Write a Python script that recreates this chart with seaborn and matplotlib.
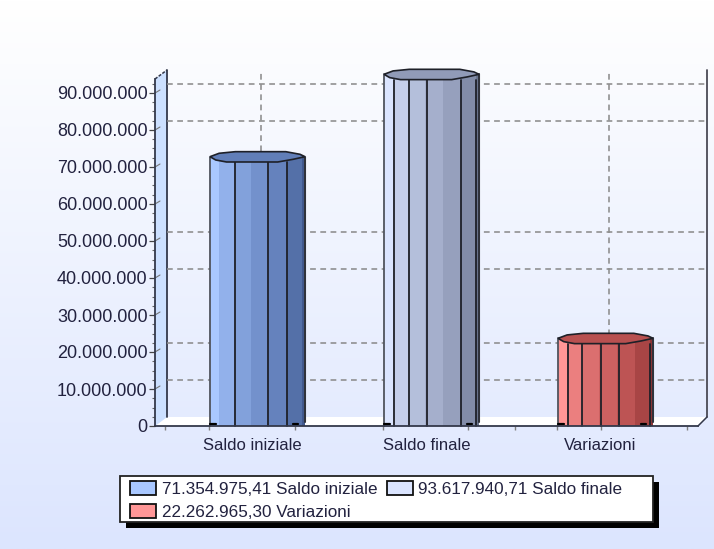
import numpy as np
import pandas as pd
import matplotlib
matplotlib.use("Agg")
import matplotlib.pyplot as plt
import seaborn as sns
from matplotlib.colors import LinearSegmentedColormap, to_rgb
from matplotlib.patches import Patch, Rectangle
from matplotlib.ticker import FuncFormatter, MultipleLocator
from matplotlib.transforms import Affine2D

# Balance figures
voci = ["Saldo iniziale", "Saldo finale", "Variazioni"]
saldi = [71354975.41, 93617940.71, 22262965.30]
colori = ["#a9c8ff", "#dbe5ff", "#ff9696"]

# Levels on which the back wall keeps a dashed guide
livelli_griglia = [10e6, 20e6, 40e6, 50e6, 80e6, 90e6]

# Drawing geometry, in pixels of the 714x549 canvas
W, H, DPI = 714, 549, 100
LEFT, RIGHT, FLOOR, TOP = 155, 698, 426, 79
FIRST_BAR, STEP = 257.5, 174
PX_PER_UNIT = 3.7e-6
DEPTH_Y = 9

# Cylinder shading: band limits across the bar and brightness of each band
BANDS = [0, .096, .255, .433, .617, .81, .965, 1]
SHADES = [1, .92, .86, .80, .74, .66, .56]
CAP_U = [0, .096, .266, .798, .947, 1, .876, .713, .174, .06]
CAP_DY = [5.3, 8.7, 10.3, 10.3, 7.7, 5.3, 2.7, 0, 0, 2]
RIBS = [[.263, .614, .807], [.11, .26, .45, .81, .965], [.105, .256, .45, .64, .965]]
INK = "#22223f"


def shaded(base, s):
    """Darken a colour, letting its weaker channels fall faster so the hue deepens."""
    return s * base ** (1 + 2 * (1 - s))


sns.set_style("white")
plt.rcParams["font.family"] = ["Liberation Sans", "DejaVu Sans"]
plt.rcParams["font.size"] = 13

fig = plt.figure(figsize=(W / DPI, H / DPI), dpi=DPI)

# Page background
bg = fig.add_axes([0, 0, 1, 1], zorder=0)
ramp = LinearSegmentedColormap.from_list("page", ["#ffffff", "#dce5fe"])
bg.imshow(np.linspace(0, 1, 256)[:, None], cmap=ramp, aspect="auto")
bg.axis("off")

ax = fig.add_axes([LEFT / W, 1 - FLOOR / H, (RIGHT - LEFT) / W, (FLOOR - TOP) / H], zorder=11)
ax.patch.set_alpha(0)

df = pd.DataFrame({"voce": voci, "saldo": saldi})
sns.barplot(data=df, x="voce", y="saldo", hue="voce", palette=colori, width=95 / STEP,
            saturation=1, legend=False, ax=ax, zorder=3, linewidth=0)

ax.set_xlim((LEFT - FIRST_BAR) / STEP, (RIGHT - FIRST_BAR) / STEP)
ax.set_ylim(0, (FLOOR - TOP) / PX_PER_UNIT)
ax.set_xlabel("")
ax.set_ylabel("")

# Floor and side wall of the 3D box
x_l, x_r = ax.get_xlim()
dy_data = DEPTH_Y / PX_PER_UNIT
y_top = ax.get_ylim()[1]
wall_dx = 12 / STEP
back_r = x_r + 9 / STEP
ax.fill([x_l, x_r, back_r, x_l + wall_dx], [0, 0, dy_data, dy_data],
        color="white", lw=0, zorder=1, clip_on=False)
ax.fill([x_l, x_l + wall_dx, x_l + wall_dx, x_l], [0, dy_data, y_top + dy_data, y_top],
        facecolor="#cce0ff", edgecolor="none", zorder=1, clip_on=False)
ax.plot([x_l + wall_dx, x_l + wall_dx], [dy_data, y_top + dy_data], color="#33384a", lw=1.3,
        zorder=2, clip_on=False)
ax.plot([x_l, x_l + wall_dx], [y_top, y_top + dy_data], color="#33384a", lw=1.1, ls=(0, (2, 1)),
        zorder=2, clip_on=False)
ax.plot([back_r] * 2, [dy_data, y_top + dy_data], color="#4a4a55", lw=1.3,
        zorder=2, clip_on=False)
ax.plot([x_r, back_r], [0, dy_data], color="#33384a", lw=1.1, zorder=2, clip_on=False)

# Dashed guides on the back wall
dash = dict(color="#8c8c8c", lw=1.15, ls=(0, (3.6, 2.8)), zorder=2, clip_on=False)
for livello in livelli_griglia:
    ax.plot([x_l + wall_dx, back_r], [livello + dy_data] * 2, **dash)
for i in range(len(voci)):
    ax.plot([i + 3.5 / STEP] * 2, [dy_data, y_top + dy_data], **dash)

# Faceted cylinders built on the bars
for bar, ribs in zip(ax.patches, RIBS):
    x0, w, v = bar.get_x(), bar.get_width(), bar.get_height()
    base = np.array(to_rgb(bar.get_facecolor()))
    rim = v + 5.3 / PX_PER_UNIT
    for a, b, s in zip(BANDS[:-1], BANDS[1:], SHADES):
        ax.fill([x0 + a * w, x0 + b * w, x0 + b * w, x0 + a * w], [0, 0, rim, rim],
                color=shaded(base, s), lw=0, zorder=4, clip_on=False)
    for u in ribs:
        ax.plot([x0 + u * w] * 2, [0, v], color="#1e2028", lw=1.3, zorder=5, clip_on=False)
    ax.plot([x0, x0], [0, rim], color="#50545e", lw=1.3, zorder=5, clip_on=False)
    ax.plot([x0 + w] * 2, [4 / PX_PER_UNIT, rim], color="#30333c", lw=1.5,
            zorder=5, clip_on=False)
    cap_x = [x0 + u * w for u in CAP_U]
    cap_y = [v + d / PX_PER_UNIT for d in CAP_DY]
    ax.fill(cap_x, cap_y, facecolor=shaded(base, .72), edgecolor="#1e2028", lw=1.2, zorder=6, clip_on=False)
    # small dark feet on the floor line
    for u in (.03, .9):
        ax.plot([x0 + (u - .03) * w, x0 + (u + .03) * w], [.5e6, .5e6], color="black", lw=1.6,
                zorder=7, clip_on=False)

# Axes
sns.despine(ax=ax, top=True, right=True)
for name in ("left", "bottom"):
    ax.spines[name].set_color("#33384a")
    ax.spines[name].set_linewidth(1.3)
    ax.spines[name].set_zorder(8)

ax.yaxis.set_major_locator(MultipleLocator(10e6))
ax.yaxis.set_minor_locator(MultipleLocator(2.5e6))
ax.yaxis.set_major_formatter(FuncFormatter(lambda v, _: f"{v:,.0f}".replace(",", ".")))
ax.tick_params(axis="y", which="major", left=True, length=4.3, width=.9, color="#444444", pad=1,
               labelcolor=INK, labelsize=13)
ax.tick_params(axis="y", which="minor", left=True, length=2, width=.8, color="#666666")
for v in np.arange(10e6, 91e6, 10e6):
    ax.plot([x_l, x_l + 5 / STEP], [v, v + 3 / PX_PER_UNIT], color="#777777", lw=.8, zorder=2,
            clip_on=False)

ax.set_xticks(range(len(voci)), voci)
ax.tick_params(axis="x", which="major", bottom=False, length=0, pad=9, labelcolor=INK, labelsize=12)
for label in ax.get_xticklabels():
    label.set_transform(label.get_transform() + Affine2D().translate(-5, 0))
ax.set_xticks([(p - FIRST_BAR) / STEP for p in (165, 209, 295, 383, 468, 515, 557, 601, 687)], minor=True)
ax.tick_params(axis="x", which="minor", bottom=True, length=3, width=1, color="#808080")

# Legend: shadowed frame with value and name of every bar
etichetta = lambda v: f"{v:,.2f}".replace(",", "§").replace(".", ",").replace("§", ".")
voci_legenda = [Patch(facecolor=c, edgecolor="#111111", lw=1.3, label=f"{etichetta(v)} {n}")
                for n, v, c in zip(voci, saldi, colori)]
frame_x, frame_y, frame_w, frame_h = 120, 476, 533, 46
fig.add_artist(Rectangle(((frame_x + 6) / W, 1 - (frame_y + frame_h + 6) / H), frame_w / W, frame_h / H,
                         transform=fig.transFigure, facecolor="black", edgecolor="none", zorder=9))
fig.add_artist(Rectangle((frame_x / W, 1 - (frame_y + frame_h) / H), frame_w / W, frame_h / H,
                         transform=fig.transFigure, facecolor="white", edgecolor="#222222", lw=1.3, zorder=10))
leg = ax.legend(handles=[voci_legenda[0], voci_legenda[2], voci_legenda[1]], ncols=2, frameon=False,
                loc="upper left", bbox_to_anchor=((frame_x + 10) / W, 1 - (frame_y + 5) / H),
                bbox_transform=fig.transFigure, borderaxespad=0, borderpad=0, fontsize=12.3,
                handlelength=1.55, handleheight=.85, handletextpad=.3, columnspacing=.55,
                labelspacing=.42, labelcolor=INK)
leg.set_zorder(20)

fig.savefig("out.png", dpi=DPI)
